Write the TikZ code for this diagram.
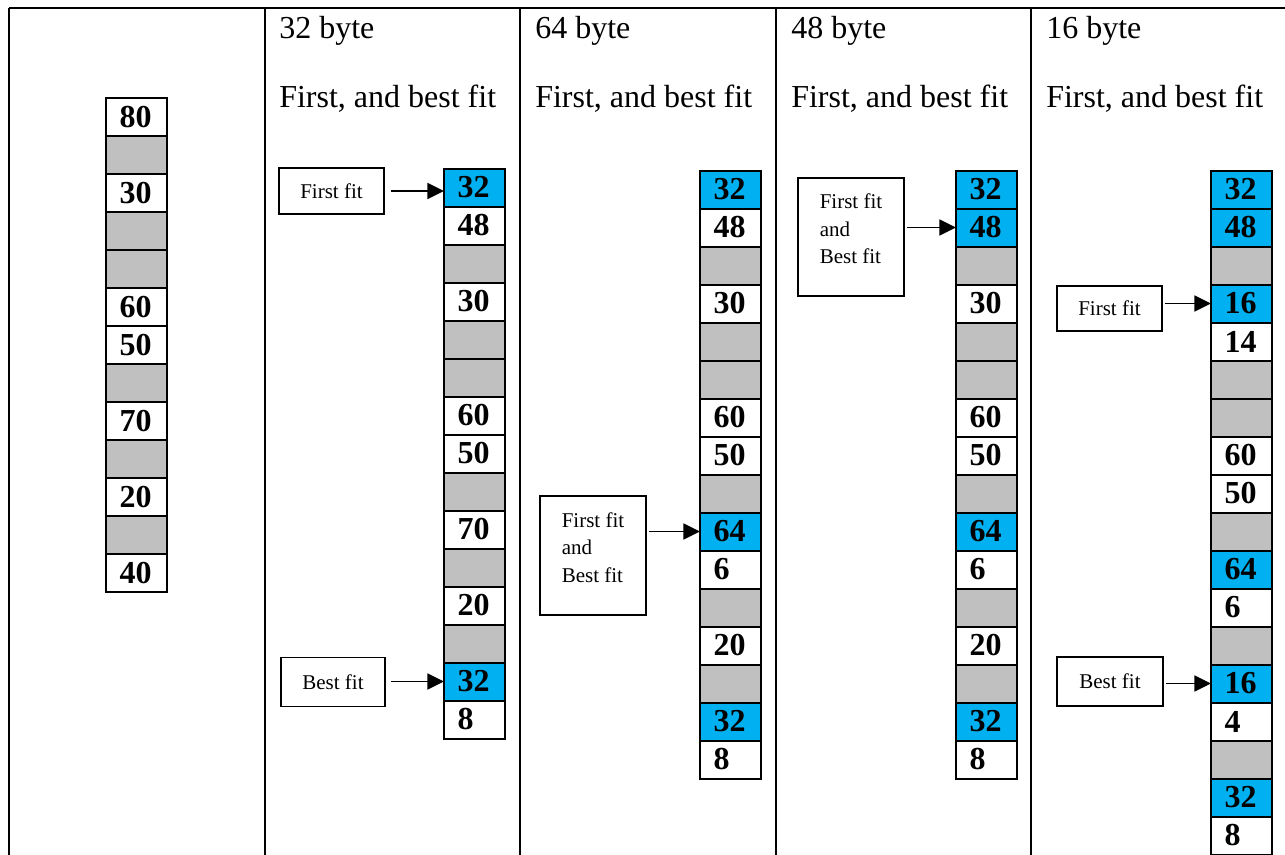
\documentclass[tikz,border=0pt]{standalone}
\usepackage{fontspec}
\setmainfont{Liberation Serif}
\usetikzlibrary{arrows.meta}

\definecolor{cellblue}{HTML}{00B0F0}
\definecolor{cellgray}{HTML}{C0C0C0}

% one column of memory blocks: #1 name prefix, #2 left x, #3 top y, #4 label/kind list
\newcommand\memstack[4]{%
  \foreach \lab/\kind [count=\i] in {#4} {%
    \node[cell,\kind] (#1-\i) at ({#2+30.5},{#3+(\i-0.5)*38}) {\lab};
  }%
}

\begin{document}
\begin{tikzpicture}[x=0.75pt,y=-0.75pt,
  grid/.style={line width=1.9pt},
  cell/.style={draw, line width=1.5pt, rectangle, outer sep=0pt,
    minimum width=45.75pt, minimum height=28.5pt,
    inner xsep=10.125pt, inner ysep=0pt, text width=25.5pt, align=left,
    font=\bfseries\fontsize{24}{24}\selectfont},
  freeblk/.style={fill=white},
  usedblk/.style={fill=cellgray},
  newblk/.style={fill=cellblue},
  head/.style={anchor=base west, inner sep=0pt, font=\fontsize{24}{28}\selectfont},
  callout/.style={draw, line width=1.2pt, rectangle, fill=white, inner sep=0pt,
    font=\fontsize{15.75}{20.6}\selectfont},
  ptr/.style={line width=1.3pt, -{Triangle[length=12.5pt,width=12pt]}}
]
\useasboundingbox (0,0) rectangle (1285,854);
\clip (0,0) rectangle (1285,854);
\fill[white] (0,0) rectangle (1285,854);

% table rules
\draw[grid] (9,8) -- (1295,8);
\foreach \gx in {9,265,520,776,1031}
  \draw[grid] (\gx,8) -- (\gx,864);

% column headings
\node[head] (t2) at (279,38) {32 byte};
\node[head] (u2) at (279,107) {First, and best fit};
\node[head] (t3) at (535,38) {64 byte};
\node[head] (u3) at (535,107) {First, and best fit};
\node[head] (t4) at (791,38) {48 byte};
\node[head] (u4) at (791,107) {First, and best fit};
\node[head] (t5) at (1046,38) {16 byte};
\node[head] (u5) at (1046,107) {First, and best fit};

% initial memory
\memstack{s1}{106}{98}{80/freeblk,~/usedblk,30/freeblk,~/usedblk,~/usedblk,60/freeblk,50/freeblk,~/usedblk,70/freeblk,~/usedblk,20/freeblk,~/usedblk,40/freeblk}

% after 32 byte request
\memstack{s2}{444}{168.5}{32/newblk,48/freeblk,~/usedblk,30/freeblk,~/usedblk,~/usedblk,60/freeblk,50/freeblk,~/usedblk,70/freeblk,~/usedblk,20/freeblk,~/usedblk,32/newblk,8/freeblk}

% after 64 byte request
\memstack{s3}{700}{170.5}{32/newblk,48/freeblk,~/usedblk,30/freeblk,~/usedblk,~/usedblk,60/freeblk,50/freeblk,~/usedblk,64/newblk,6/freeblk,~/usedblk,20/freeblk,~/usedblk,32/newblk,8/freeblk}

% after 48 byte request
\memstack{s4}{956}{170.5}{32/newblk,48/newblk,~/usedblk,30/freeblk,~/usedblk,~/usedblk,60/freeblk,50/freeblk,~/usedblk,64/newblk,6/freeblk,~/usedblk,20/freeblk,~/usedblk,32/newblk,8/freeblk}

% after 16 byte request
\memstack{s5}{1211}{170.5}{32/newblk,48/newblk,~/usedblk,16/newblk,14/freeblk,~/usedblk,~/usedblk,60/freeblk,50/freeblk,~/usedblk,64/newblk,6/freeblk,~/usedblk,16/newblk,4/freeblk,~/usedblk,32/newblk,8/freeblk}

% callouts
\node[callout, minimum width=78.75pt, minimum height=34.5pt] (f2) at (331.5,191) {First fit};
\node[callout, minimum width=78pt, minimum height=36.75pt] (b2) at (333,682) {Best fit};
\node[callout, minimum width=79.5pt, minimum height=89.25pt] (fb3) at (593,555.5)
  {\vbox{\hbox{First fit}\hbox{and}\hbox{Best fit}\kern12pt}};
\node[callout, minimum width=79.5pt, minimum height=88.5pt] (fb4) at (851,237)
  {\vbox{\hbox{First fit}\hbox{and}\hbox{Best fit}\kern12pt}};
\node[callout, minimum width=78.75pt, minimum height=33.75pt] (f5) at (1109.5,308.5) {First fit};
\node[callout, minimum width=79.5pt, minimum height=36.75pt] (b5) at (1110,681.5) {Best fit};

% pointers into the chosen blocks
\draw[ptr, shorten <=4.5pt] (f2.east) -- (f2.east -| s2-1.west);
\draw[ptr, shorten <=4pt] (b2.east |- s2-14.west) -- (s2-14.west);
\draw[ptr, shorten <=1.5pt] (fb3.east |- s3-10.west) -- (s3-10.west);
\draw[ptr, shorten <=1.5pt] (fb4.east |- s4-2.west) -- (s4-2.west);
\draw[ptr, shorten <=2pt] (f5.east |- s5-4.west) -- (s5-4.west);
\draw[ptr, shorten <=2pt] (b5.east |- s5-14.west) -- (s5-14.west);
\end{tikzpicture}
\end{document}
